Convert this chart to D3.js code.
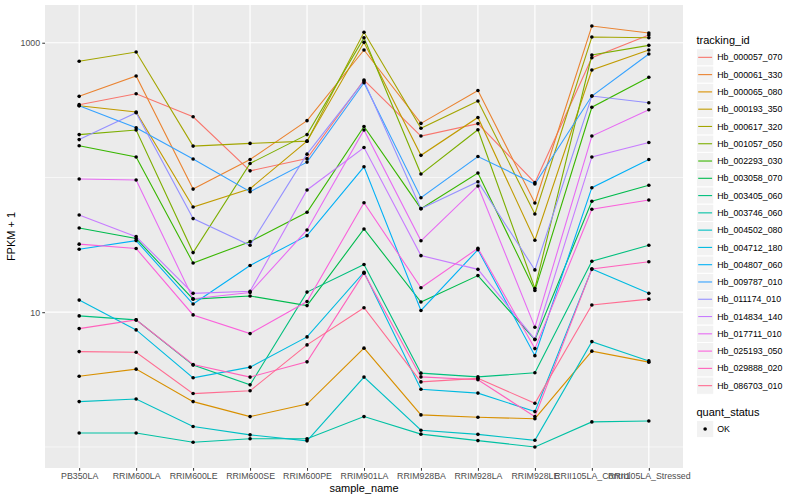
<!DOCTYPE html>
<html>
<head>
<meta charset="utf-8">
<script src="https://cdn.jsdelivr.net/npm/d3@7"></script>
<style>
  body { margin: 0; background: #fff; }
  text { font-family: "Liberation Sans", Arial, sans-serif; }
</style>
</head>
<body>
<svg id="chart" width="800" height="500"></svg>
<script>
// samples on the x axis
const samples = [
  "PB350LA", "RRIM600LA", "RRIM600LE", "RRIM600SE", "RRIM600PE", "RRIM901LA",
  "RRIM928BA", "RRIM928LA", "RRIM928LE", "RRII105LA_Control", "RRII105LA_Stressed"
];

// FPKM + 1, one array per transcript (same order as samples)
const hb000057_070 = [347, 418, 282, 112, 138, 529, 203, 251, 91.5, 774, 1140];
const hb000061_330 = [400, 566, 82, 136, 264, 883, 252, 442, 64.7, 1330, 1180];
const hb000065_080 = [3.35, 3.78, 2.17, 1.68, 2.08, 5.41, 1.73, 1.66, 1.62, 5.14, 4.26];
const hb000193_350 = [341, 306, 60.4, 82.6, 186, 1007, 146, 279, 34.2, 627, 883];
const hb000617_320 = [728, 853, 171, 179, 186, 1195, 232, 369, 53.6, 1103, 1090];
const hb001057_050 = [208, 225, 27.7, 127, 208, 1090, 106, 226, 15.0, 810, 956];
const hb002293_030 = [172, 142, 23.2, 33.4, 55.2, 239, 58.7, 108, 14.5, 332, 554];
const hb003058_070 = [42.2, 35.2, 12.5, 13.2, 11.2, 41.5, 11.9, 18.7, 6.26, 66.6, 87.5];
const hb003405_060 = [9.39, 8.77, 4.05, 2.89, 14.1, 22.6, 3.53, 3.31, 3.55, 23.9, 31.4];
const hb003746_060 = [1.27, 1.27, 1.085, 1.15, 1.15, 1.68, 1.245, 1.115, 1.0, 1.535, 1.56];
const hb004502_080 = [2.17, 2.27, 1.42, 1.23, 1.11, 3.30, 1.33, 1.24, 1.12, 6.05, 4.35];
const hb004712_180 = [12.3, 7.39, 3.26, 3.91, 6.56, 19.8, 2.68, 2.51, 1.83, 20.9, 13.8];
const hb004807_060 = [29.3, 34.0, 11.5, 22.2, 37.0, 120, 10.3, 29.1, 4.76, 84.0, 136];
const hb009787_010 = [341, 234, 137, 78.5, 130, 505, 70.8, 143, 89.5, 402, 825];
const hb011174_010 = [191, 302, 49.5, 31.4, 149, 520, 58.7, 92.9, 20.6, 402, 359];
const hb014834_140 = [52.7, 36.4, 13.8, 14.3, 80.8, 167, 26.3, 20.8, 6.3, 142, 182];
const hb017711_010 = [97.5, 95.8, 12.6, 14.0, 40.8, 225, 33.9, 86.5, 7.74, 203, 318];
const hb025193_050 = [32.0, 29.7, 9.55, 6.94, 12.0, 65.0, 15.2, 29.8, 5.37, 58.1, 68.1];
const hb029888_020 = [7.56, 8.77, 4.09, 3.30, 4.28, 19.5, 3.31, 3.15, 1.68, 20.9, 23.7];
const hb086703_010 = [5.10, 5.05, 2.49, 2.61, 5.72, 10.8, 3.04, 3.23, 2.11, 11.3, 12.5];

const trackingIds = [
  "Hb_000057_070", "Hb_000061_330", "Hb_000065_080", "Hb_000193_350", "Hb_000617_320",
  "Hb_001057_050", "Hb_002293_030", "Hb_003058_070", "Hb_003405_060", "Hb_003746_060",
  "Hb_004502_080", "Hb_004712_180", "Hb_004807_060", "Hb_009787_010", "Hb_011174_010",
  "Hb_014834_140", "Hb_017711_010", "Hb_025193_050", "Hb_029888_020", "Hb_086703_010"
];
const seriesValues = [
  hb000057_070, hb000061_330, hb000065_080, hb000193_350, hb000617_320,
  hb001057_050, hb002293_030, hb003058_070, hb003405_060, hb003746_060,
  hb004502_080, hb004712_180, hb004807_060, hb009787_010, hb011174_010,
  hb014834_140, hb017711_010, hb025193_050, hb029888_020, hb086703_010
];
const yTicks = [10, 1000];
const yMinor = [1, 100];

// ggplot default hue palette for 20 levels
const palette = [
  "#F8766D", "#EA8331", "#D89000", "#C09B00", "#A3A500", "#7CAE00", "#39B600",
  "#00BB4E", "#00BF7D", "#00C1A3", "#00BFC4", "#00BAE0", "#00B0F6", "#35A2FF",
  "#9590FF", "#C77CFF", "#E76BF3", "#FA62DB", "#FF62BC", "#FF6C91"
];

const series = trackingIds.map((id, i) => ({
  id,
  color: palette[i],
  values: seriesValues[i].map((v, j) => ({ sample: samples[j], value: v }))
}));

const svg = d3.select("#chart");
const panel = { left: 45, right: 683, top: 5, bottom: 468 };

const x = d3.scalePoint()
  .domain(samples)
  .range([panel.left, panel.right])
  .padding(0.6);

// log scale with ggplot-like 5% expansion in log space
const all = seriesValues.flat();
const lo = Math.log10(d3.min(all)), hi = Math.log10(d3.max(all));
const pad = (hi - lo) * 0.05;
const y = d3.scaleLog()
  .domain([Math.pow(10, lo - pad), Math.pow(10, hi + pad)])
  .range([panel.bottom, panel.top]);

// panel background + grid
svg.append("rect")
  .attr("x", panel.left).attr("y", panel.top)
  .attr("width", panel.right - panel.left).attr("height", panel.bottom - panel.top)
  .attr("fill", "#EBEBEB");

svg.append("g").selectAll("line")
  .data(yMinor)
  .join("line")
  .attr("x1", panel.left).attr("x2", panel.right)
  .attr("y1", d => y(d)).attr("y2", d => y(d))
  .attr("stroke", "#fff").attr("stroke-width", 0.6);

svg.append("g").selectAll("line")
  .data(yTicks)
  .join("line")
  .attr("x1", panel.left).attr("x2", panel.right)
  .attr("y1", d => y(d)).attr("y2", d => y(d))
  .attr("stroke", "#fff").attr("stroke-width", 1.2);

svg.append("g").selectAll("line")
  .data(samples)
  .join("line")
  .attr("x1", d => x(d)).attr("x2", d => x(d))
  .attr("y1", panel.top).attr("y2", panel.bottom)
  .attr("stroke", "#fff").attr("stroke-width", 1.2);

// lines
const line = d3.line()
  .x(d => x(d.sample))
  .y(d => y(d.value));

svg.append("g")
  .selectAll("path")
  .data(series)
  .join("path")
  .attr("d", d => line(d.values))
  .attr("fill", "none")
  .attr("stroke", d => d.color)
  .attr("stroke-width", 1.1);

// points
svg.append("g")
  .selectAll("circle")
  .data(series.flatMap(s => s.values))
  .join("circle")
  .attr("cx", d => x(d.sample))
  .attr("cy", d => y(d.value))
  .attr("r", 1.8)
  .attr("fill", "#000");

// axes
const yAxis = svg.append("g")
  .attr("transform", `translate(${panel.left},0)`)
  .call(d3.axisLeft(y).tickValues(yTicks).tickFormat(d3.format("d")).tickSize(2.75).tickPadding(2.2));
yAxis.select(".domain").remove();
yAxis.selectAll("line").attr("stroke", "#333");
yAxis.selectAll("text").attr("fill", "#4D4D4D").style("font-size", "8.8px");

const xAxis = svg.append("g")
  .attr("transform", `translate(0,${panel.bottom})`)
  .call(d3.axisBottom(x).tickSize(2.75).tickPadding(2.2));
xAxis.select(".domain").remove();
xAxis.selectAll("line").attr("stroke", "#333");
xAxis.selectAll("text").attr("fill", "#4D4D4D").style("font-size", "8.8px");

svg.append("text")
  .attr("x", (panel.left + panel.right) / 2).attr("y", 492)
  .attr("text-anchor", "middle").style("font-size", "11px")
  .text("sample_name");

svg.append("text")
  .attr("transform", `translate(15,${(panel.top + panel.bottom) / 2}) rotate(-90)`)
  .attr("text-anchor", "middle").style("font-size", "11px")
  .text("FPKM + 1");

// legend: tracking_id
const legX = 696.5, keyW = 17.28, rowH = 17.28, firstRow = 48.7;
svg.append("text")
  .attr("x", legX).attr("y", 44)
  .style("font-size", "11px")
  .text("tracking_id");

const leg = svg.append("g")
  .selectAll("g")
  .data(series)
  .join("g")
  .attr("transform", (d, i) => `translate(${legX},${firstRow + i * rowH})`);

leg.append("rect")
  .attr("width", keyW).attr("height", rowH)
  .attr("fill", "#F2F2F2").attr("stroke", "#fff").attr("stroke-width", 1);
leg.append("line")
  .attr("x1", 1.7).attr("x2", keyW - 1.7)
  .attr("y1", rowH / 2).attr("y2", rowH / 2)
  .attr("stroke", d => d.color).attr("stroke-width", 1.1);
leg.append("text")
  .attr("x", keyW + 3.5).attr("y", rowH / 2 + 3.1)
  .style("font-size", "8.8px")
  .text(d => d.id);

// legend: quant_status
svg.append("text")
  .attr("x", legX).attr("y", 416.3)
  .style("font-size", "11px")
  .text("quant_status");
const qs = svg.append("g").attr("transform", `translate(${legX},${420.4})`);
qs.append("rect")
  .attr("width", keyW).attr("height", rowH)
  .attr("fill", "#F2F2F2").attr("stroke", "#fff");
qs.append("circle")
  .attr("cx", keyW / 2).attr("cy", rowH / 2).attr("r", 1.8).attr("fill", "#000");
qs.append("text")
  .attr("x", keyW + 3.5).attr("y", rowH / 2 + 3.1)
  .style("font-size", "8.8px")
  .text("OK");
</script>
</body>
</html>
